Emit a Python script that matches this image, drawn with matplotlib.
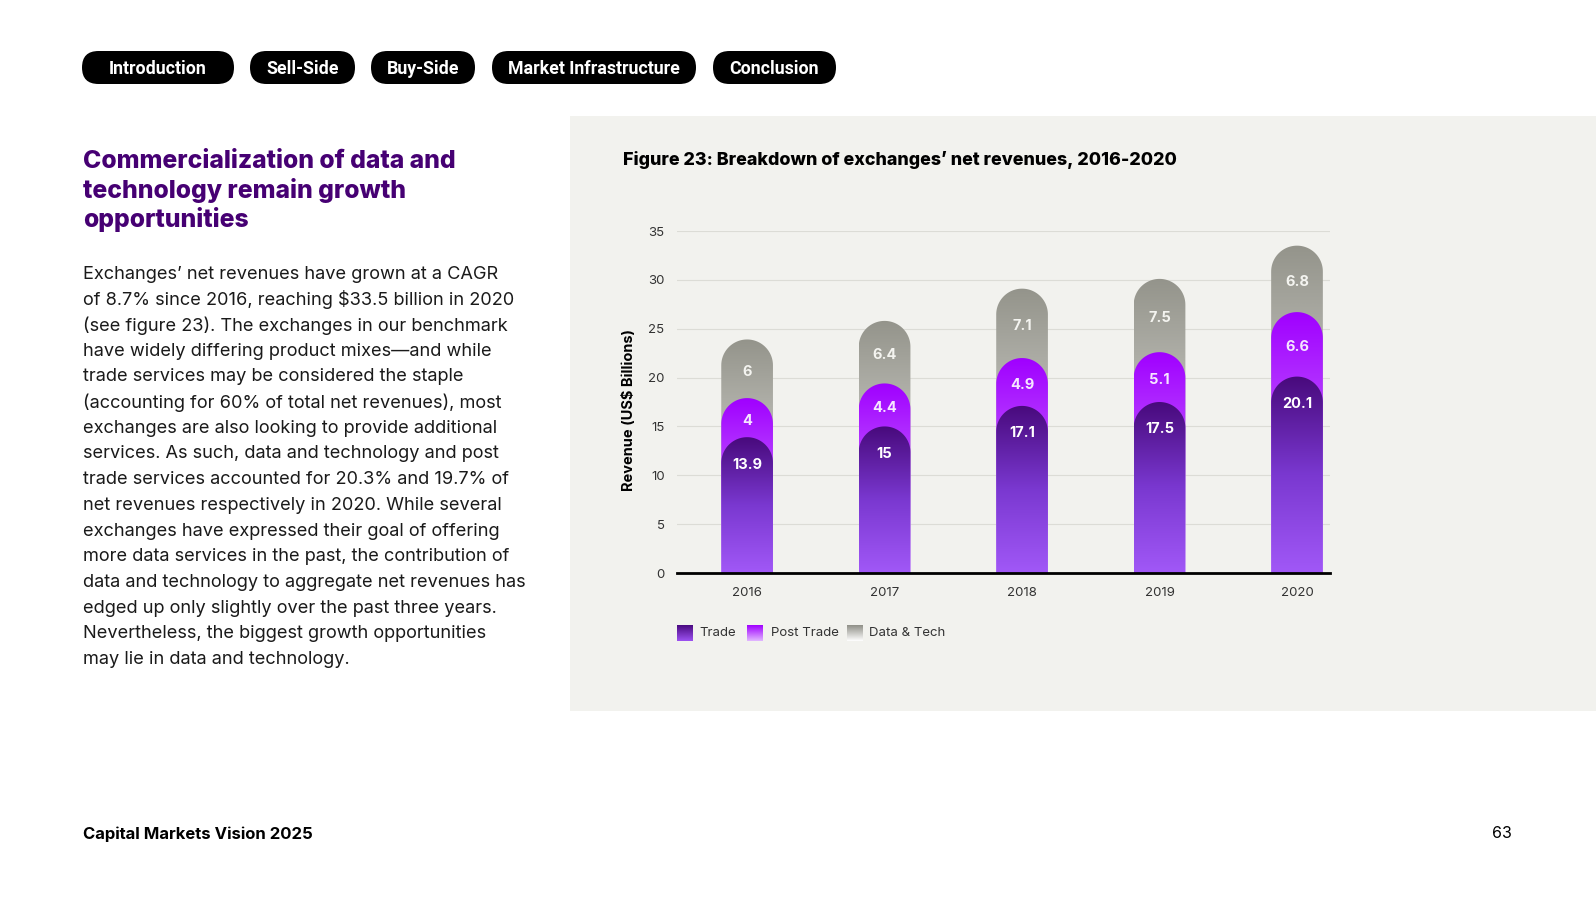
import numpy as np
import matplotlib
matplotlib.use("Agg")
import matplotlib.pyplot as plt
from matplotlib.patches import FancyBboxPatch, PathPatch, Rectangle
from matplotlib.path import Path
from matplotlib.colors import LinearSegmentedColormap

# data
years = ["2016", "2017", "2018", "2019", "2020"]
trade = [13.9, 15.0, 17.1, 17.5, 20.1]
post_trade = [4.0, 4.4, 4.9, 5.1, 6.6]
data_tech = [6.0, 6.4, 7.1, 7.5, 6.8]
series_names = ["Trade", "Post Trade", "Data & Tech"]
nav_items = ["Introduction", "Sell-Side", "Buy-Side", "Market Infrastructure", "Conclusion"]

heading = ["Commercialization of data and", "technology remain growth", "opportunities"]
body = [
    "Exchanges\u2019 net revenues have grown at a CAGR",
    "of 8.7% since 2016, reaching $33.5 billion in 2020",
    "(see figure 23). The exchanges in our benchmark",
    "have widely differing product mixes\u2014and while",
    "trade services may be considered the staple",
    "(accounting for 60% of total net revenues), most",
    "exchanges are also looking to provide additional",
    "services. As such, data and technology and post",
    "trade services accounted for 20.3% and 19.7% of",
    "net revenues respectively in 2020. While several",
    "exchanges have expressed their goal of offering",
    "more data services in the past, the contribution of",
    "data and technology to aggregate net revenues has",
    "edged up only slightly over the past three years.",
    "Nevertheless, the biggest growth opportunities",
    "may lie in data and technology.",
]

W, H = 1596, 900
fig = plt.figure(figsize=(W / 100, H / 100), dpi=100)
fig.patch.set_facecolor("white")
FONT = "Inter"


def fx(x):
    return x / W


def fy(y):
    return 1 - y / H


# grey panel behind the chart
fig.add_artist(Rectangle((fx(570), fy(711)), 1 - fx(570), (711 - 116) / H,
                         transform=fig.transFigure, facecolor="#f2f2ee",
                         edgecolor="none", zorder=0))

# navigation pills
pills = [(82, 234), (250, 355), (371, 475), (492, 696), (713, 836)]
for (x0, x1), name in zip(pills, nav_items):
    h = 33
    y0 = 51
    box = FancyBboxPatch((x0 / 100, (H - y0 - h) / 100), (x1 - x0) / 100, h / 100,
                         boxstyle="round,pad=0,rounding_size=%f" % (h / 200),
                         transform=fig.dpi_scale_trans, facecolor="black",
                         edgecolor="none", zorder=2)
    fig.add_artist(box)
    fig.text(fx((x0 + x1) / 2), fy(y0 + h / 2 + 1), name, ha="center", va="center",
             color="white", fontsize=12.8, fontweight="bold", family="Roboto", zorder=3)

# left column text
for i, line in enumerate(heading):
    fig.text(fx(83), fy(161 + i * 29.5), line, ha="left", va="center",
             color="#460073", fontsize=17.8, fontweight="heavy", family=FONT)
for i, line in enumerate(body):
    fig.text(fx(83), fy(274 + i * 25.7), line, ha="left", va="center",
             color="#1a1a1a", fontsize=13.1, family=FONT)

fig.text(fx(83), fy(834), "Capital Markets Vision 2025", ha="left", va="center",
         color="black", fontsize=12, fontweight="bold", family=FONT)
fig.text(fx(1512), fy(834), "63", ha="right", va="center",
         color="black", fontsize=11.5, family=FONT)

fig.text(fx(623), fy(160), "Figure 23: Breakdown of exchanges\u2019 net revenues, 2016-2020",
         ha="left", va="center", color="black", fontsize=12.9, fontweight="heavy", family=FONT)

# chart axes
ax_l, ax_r, ax_t, ax_b = 677, 1330, 231, 573
ax = fig.add_axes([fx(ax_l), fy(ax_b), (ax_r - ax_l) / W, (ax_b - ax_t) / H])
ax.set_facecolor("none")
xlim = (-0.51, 4.24)
ylim = (0, 35)
ax.set_xlim(*xlim)
ax.set_ylim(*ylim)

px_x = (ax_r - ax_l) / (xlim[1] - xlim[0])
px_y = (ax_b - ax_t) / (ylim[1] - ylim[0])
bar_w = 0.376
rx = bar_w / 2
ry = rx * px_x / px_y

cmaps = [
    LinearSegmentedColormap.from_list("trade", ["#a158f7", "#7a38d0", "#480a7c"]),
    LinearSegmentedColormap.from_list("post", ["#dca8ff", "#a000ff"]),
    LinearSegmentedColormap.from_list("dt", ["#f4f4f2", "#94948b"]),
]
legend_cmaps = [
    LinearSegmentedColormap.from_list("tl", ["#9d52f2", "#4a0a80"]),
    LinearSegmentedColormap.from_list("pl", ["#e2b8ff", "#a000ff"]),
    LinearSegmentedColormap.from_list("dl", ["#ffffff", "#8f8f87"]),
]
label_colors = ["white", "#f6e6ff", "#f4f4f0"]


def rounded_bar(xc, top):
    x0, x1 = xc - rx, xc + rx
    cy = top - ry
    t = np.linspace(0, np.pi, 60)
    arc = np.column_stack([xc + rx * np.cos(t), cy + ry * np.sin(t)])
    verts = np.vstack([[x1, 0], [x1, cy], arc, [x0, cy], [x0, 0], [x1, 0]])
    codes = [Path.MOVETO] + [Path.LINETO] * (len(verts) - 2) + [Path.CLOSEPOLY]
    return Path(verts, codes)


grad = np.linspace(0, 1, 256).reshape(-1, 1)
values = [trade, post_trade, data_tech]
stacks = np.cumsum(np.array(values), axis=0)
for k in [2, 1, 0]:
    for i in range(len(years)):
        top = stacks[k][i]
        bottom = stacks[k - 1][i] if k > 0 else 0
        path = rounded_bar(i, top)
        patch = PathPatch(path, facecolor="none", edgecolor="none", transform=ax.transData)
        ax.add_patch(patch)
        im = ax.imshow(grad, cmap=cmaps[k], origin="lower", aspect="auto",
                       extent=[i - rx, i + rx, 0, top], zorder=3 + (2 - k),
                       interpolation="bicubic")
        im.set_clip_path(patch)
        if k == 0:
            ly = top - 2.8
        else:
            ly = (top + bottom) / 2 - 0.3
        ax.text(i, ly, "%g" % values[k][i], ha="center", va="center",
                color=label_colors[k], fontsize=10.5, fontweight="bold",
                family=FONT, zorder=10)

ax.set_xlim(*xlim)
ax.set_ylim(*ylim)
ax.set_xticks(range(len(years)))
ax.set_xticklabels(years)
ax.set_yticks(range(0, 36, 5))
ax.tick_params(axis="both", length=0, labelsize=9.5, labelcolor="#333333")
ax.tick_params(axis="x", pad=10)
ax.tick_params(axis="y", pad=9)
for lab in ax.get_xticklabels() + ax.get_yticklabels():
    lab.set_family(FONT)
ax.grid(axis="y", color="#dcdcd6", lw=0.8, zorder=0)
ax.set_axisbelow(True)
for s in ["top", "right", "left"]:
    ax.spines[s].set_visible(False)
ax.spines["bottom"].set_color("black")
ax.spines["bottom"].set_linewidth(2)
ax.spines["bottom"].set_zorder(12)
ax.text((629 - ax_l) / (ax_r - ax_l), (ax_b - 410) / (ax_b - ax_t), "Revenue (US$ Billions)",
        transform=ax.transAxes, rotation=90, ha="center", va="center",
        fontsize=10.5, fontweight="bold", family=FONT, color="black")

# legend with gradient swatches
leg_x = [(677, 699), (747, 771), (847, 869)]
for k, ((sx, tx), name) in enumerate(zip(leg_x, series_names)):
    sax = fig.add_axes([fx(sx), fy(641), 16 / W, 16 / H])
    sax.imshow(grad, cmap=legend_cmaps[k], origin="lower", aspect="auto")
    sax.axis("off")
    fig.text(fx(tx), fy(633), name, ha="left", va="center", fontsize=9.5,
             color="#333333", family=FONT)

fig.savefig("out.png", dpi=100, facecolor="white")
